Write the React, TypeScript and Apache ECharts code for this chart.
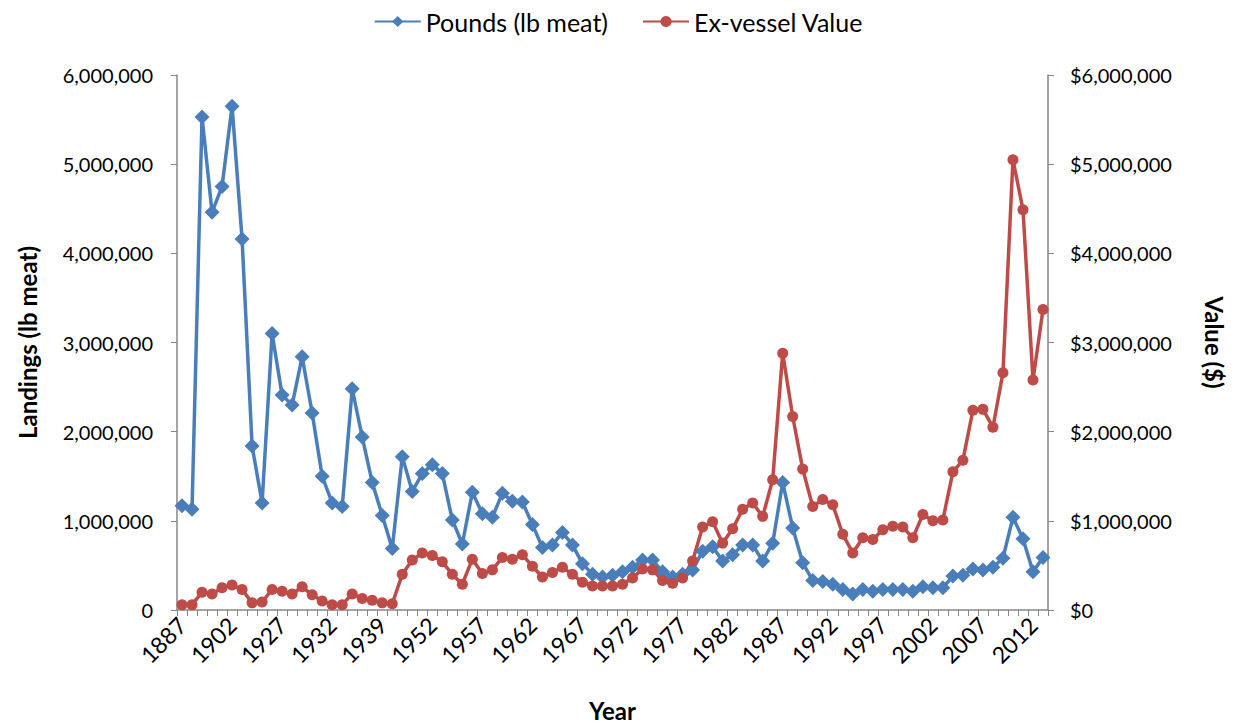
import React, { useEffect, useRef } from "react";
import * as echarts from "echarts";

const years: string[] = [
  "1887", "1889", "1892", "1897", "1898",
  "1902", "1905", "1908", "1910", "1919",
  "1927", "1928", "1929", "1930", "1931",
  "1932", "1933", "1934", "1935", "1937",
  "1939", "1940", "1945", "1950", "1951",
  "1952", "1953", "1954", "1955", "1956",
  "1957", "1958", "1959", "1960", "1961",
  "1962", "1963", "1964", "1965", "1966",
  "1967", "1968", "1969", "1970", "1971",
  "1972", "1973", "1974", "1975", "1976",
  "1977", "1978", "1979", "1980", "1981",
  "1982", "1983", "1984", "1985", "1986",
  "1987", "1988", "1989", "1990", "1991",
  "1992", "1993", "1994", "1995", "1996",
  "1997", "1998", "1999", "2000", "2001",
  "2002", "2003", "2004", "2005", "2006",
  "2007", "2008", "2009", "2010", "2011",
  "2012", "2013",
];

const pounds: number[] = [
  1170000, 1130000, 5530000, 4460000, 4750000,
  5650000, 4160000, 1840000, 1200000, 3100000,
  2410000, 2300000, 2840000, 2210000, 1500000,
  1200000, 1160000, 2480000, 1940000, 1430000,
  1060000, 690000, 1720000, 1330000, 1530000,
  1630000, 1530000, 1010000, 740000, 1320000,
  1080000, 1040000, 1310000, 1220000, 1210000,
  960000, 700000, 730000, 870000, 730000,
  520000, 400000, 370000, 390000, 430000,
  480000, 560000, 560000, 430000, 370000,
  400000, 450000, 660000, 710000, 550000,
  620000, 730000, 730000, 550000, 750000,
  1430000, 920000, 530000, 330000, 320000,
  290000, 230000, 180000, 230000, 210000,
  230000, 230000, 230000, 210000, 260000,
  250000, 250000, 380000, 390000, 460000,
  450000, 480000, 580000, 1040000, 800000,
  430000, 590000,
];

const value: number[] = [
  60000, 60000, 200000, 180000, 250000,
  280000, 230000, 80000, 90000, 230000,
  210000, 180000, 260000, 170000, 100000,
  60000, 60000, 180000, 130000, 110000,
  80000, 70000, 400000, 560000, 640000,
  610000, 540000, 400000, 290000, 570000,
  410000, 450000, 590000, 570000, 620000,
  490000, 370000, 420000, 480000, 400000,
  310000, 270000, 270000, 270000, 290000,
  360000, 460000, 450000, 330000, 300000,
  360000, 550000, 930000, 990000, 750000,
  910000, 1130000, 1200000, 1050000, 1460000,
  2880000, 2170000, 1580000, 1160000, 1240000,
  1180000, 850000, 640000, 810000, 790000,
  900000, 940000, 930000, 810000, 1070000,
  1000000, 1010000, 1550000, 1680000, 2240000,
  2250000, 2050000, 2660000, 5050000, 4490000,
  2580000, 3370000,
];

const leftTicks = { min: 0, max: 6000000, interval: 1000000 };

const FONT = "Lato, 'Open Sans', sans-serif";
const AXIS_GRAY = "#868686";
const BLUE = "#4a7ebb";
const RED = "#be4b48";

export default function App() {
  const ref = useRef<HTMLDivElement>(null);

  useEffect(() => {
    if (!ref.current) return;
    const chart = echarts.init(ref.current, undefined, { renderer: "svg" });
    const fmtNum = (v: number) => v.toLocaleString("en-US");
    const titleStyle = { fontFamily: FONT, fontSize: 24, fontWeight: "bold", color: "#000" };
    chart.setOption({
      animation: false,
      textStyle: { fontFamily: FONT },
      legend: {
        top: 4,
        left: "center",
        itemWidth: 46,
        itemHeight: 14,
        itemGap: 34,
        textStyle: { fontFamily: FONT, fontSize: 25, color: "#000" },
        data: ["Pounds (lb meat)", "Ex-vessel Value"],
      },
      grid: { left: 177, right: 189, top: 75, bottom: 108, containLabel: false },
      xAxis: {
        type: "category",
        data: years,
        boundaryGap: true,
        name: "Year",
        nameLocation: "middle",
        nameGap: 88,
        nameTextStyle: titleStyle,
        axisLine: { lineStyle: { color: AXIS_GRAY, width: 1.5 } },
        axisTick: { show: true, interval: 0, length: 6, lineStyle: { color: AXIS_GRAY } },
        axisLabel: {
          interval: 4,
          rotate: 45,
          fontFamily: FONT,
          fontSize: 23,
          color: "#000",
          margin: 11,
        },
        splitLine: { show: false },
      },
      yAxis: [
        {
          type: "value",
          min: leftTicks.min,
          max: leftTicks.max,
          interval: leftTicks.interval,
          name: "Landings (lb meat)",
          nameLocation: "middle",
          nameGap: 138,
          nameTextStyle: titleStyle,
          axisLine: { show: true, lineStyle: { color: AXIS_GRAY, width: 1.5 } },
          axisTick: { show: true, length: 6, lineStyle: { color: AXIS_GRAY } },
          axisLabel: { fontFamily: FONT, fontSize: 20, color: "#000", margin: 24, formatter: fmtNum },
          splitLine: { show: false },
        },
        {
          type: "value",
          min: leftTicks.min,
          max: leftTicks.max,
          interval: leftTicks.interval,
          position: "right",
          name: "Value ($)",
          nameLocation: "middle",
          nameGap: 154,
          nameRotate: -90,
          nameTextStyle: titleStyle,
          axisLine: { show: true, lineStyle: { color: AXIS_GRAY, width: 1.5 } },
          axisTick: { show: true, length: 6, lineStyle: { color: AXIS_GRAY } },
          axisLabel: {
            fontFamily: FONT,
            fontSize: 20,
            color: "#000",
            margin: 22,
            formatter: (v: number) => "$" + fmtNum(v),
          },
          splitLine: { show: false },
        },
      ],
      series: [
        {
          name: "Pounds (lb meat)",
          type: "line",
          yAxisIndex: 0,
          data: pounds,
          symbol: "diamond",
          symbolSize: 15,
          showAllSymbol: true,
          lineStyle: { color: BLUE, width: 3.5 },
          itemStyle: { color: BLUE },
        },
        {
          name: "Ex-vessel Value",
          type: "line",
          yAxisIndex: 1,
          data: value,
          symbol: "circle",
          symbolSize: 11,
          showAllSymbol: true,
          lineStyle: { color: RED, width: 3.5 },
          itemStyle: { color: RED },
        },
      ],
    });
    return () => chart.dispose();
  }, []);

  return (
    <div
      ref={ref}
      style={{ position: "fixed", left: 0, top: 0, width: 1237, height: 727, background: "#fff" }}
    />
  );
}
